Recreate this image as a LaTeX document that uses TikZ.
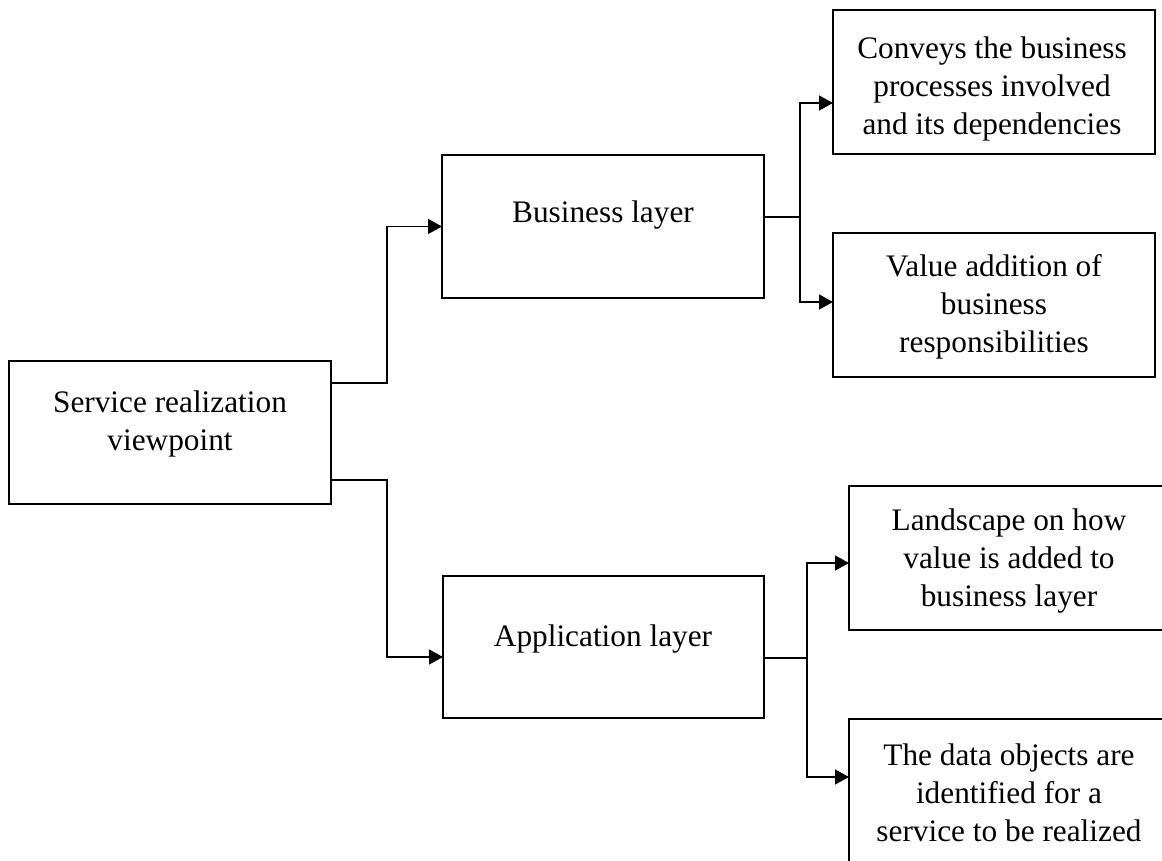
\documentclass[tikz,border=0pt]{standalone}
\usepackage{fontspec}
\setmainfont{Liberation Serif}
\usetikzlibrary{arrows.meta,calc}
\tikzset{
  box/.style={draw=black, line width=2pt, rectangle, inner sep=0pt, outer sep=0pt,
              minimum width=322pt, minimum height=143pt},
  txt/.style={align=center, inner sep=0pt, font=\fontsize{31.3}{38}\selectfont},
  conn/.style={draw=black, line width=1.3pt},
  arr/.style={conn, -{Triangle[length=14pt,width=15pt]}}
}
\begin{document}
\begin{tikzpicture}[x=1pt,y=-1pt]
  \clip (0,0) rectangle (1162,861);
  \fill[white] (0,0) rectangle (1162,861);

  % boxes
  \node[box] (svc)  at (170,432.5) {};
  \node[box] (biz)  at (603,226.5) {};
  \node[box, minimum height=142pt, minimum width=321pt] (app) at (603.5,647) {};
  \node[box, minimum height=144pt] (conv) at (994,82) {};
  \node[box, minimum height=144pt] (val)  at (994,305) {};
  \node[box, minimum height=144pt, minimum width=320pt] (land) at (1009,558) {};
  \node[box, minimum height=144pt, minimum width=320pt] (data) at (1009,791) {};

  % labels
  \node[txt] (svct)  at (170,424) {Service realization\\viewpoint};
  \node[txt] (bizt)  at (603,215) {Business layer};
  \node[txt] (appt)  at (603,639) {Application layer};
  \node[txt] (convt) at (992,89)  {Conveys the business\\processes involved\\and its dependencies};
  \node[txt] (valt)  at (994,307) {Value addition of\\business\\responsibilities};
  \node[txt] (landt) at (1009,561) {Landscape on how\\value is added to\\business layer};
  \node[txt] (datat) at (1009,793) {The data objects are\\identified for a\\service to be realized};

  % viewpoint to layers
  \draw[arr] ([yshift=49.5pt]svc.east) -| ([xshift=-55pt]biz.west) -- (biz.west);
  \draw[arr] ([yshift=-47.5pt]svc.east) -| ([xshift=-56pt,yshift=-10pt]app.west)
             -- ([yshift=-10pt]app.west);

  % business layer branches
  \draw[conn] ([yshift=9.5pt]biz.east) -- ++(36,0) coordinate (bj);
  \draw[arr] (bj) |- ([yshift=-21pt]conv.west);
  \draw[arr] (bj) |- ([yshift=3pt]val.west);

  % application layer branches
  \draw[conn] ([yshift=-11pt]app.east) -- ++(43,0) coordinate (aj);
  \draw[arr] (aj) |- ([yshift=-5pt]land.west);
  \draw[arr] (aj) |- ([yshift=14pt]data.west);
\end{tikzpicture}
\end{document}
